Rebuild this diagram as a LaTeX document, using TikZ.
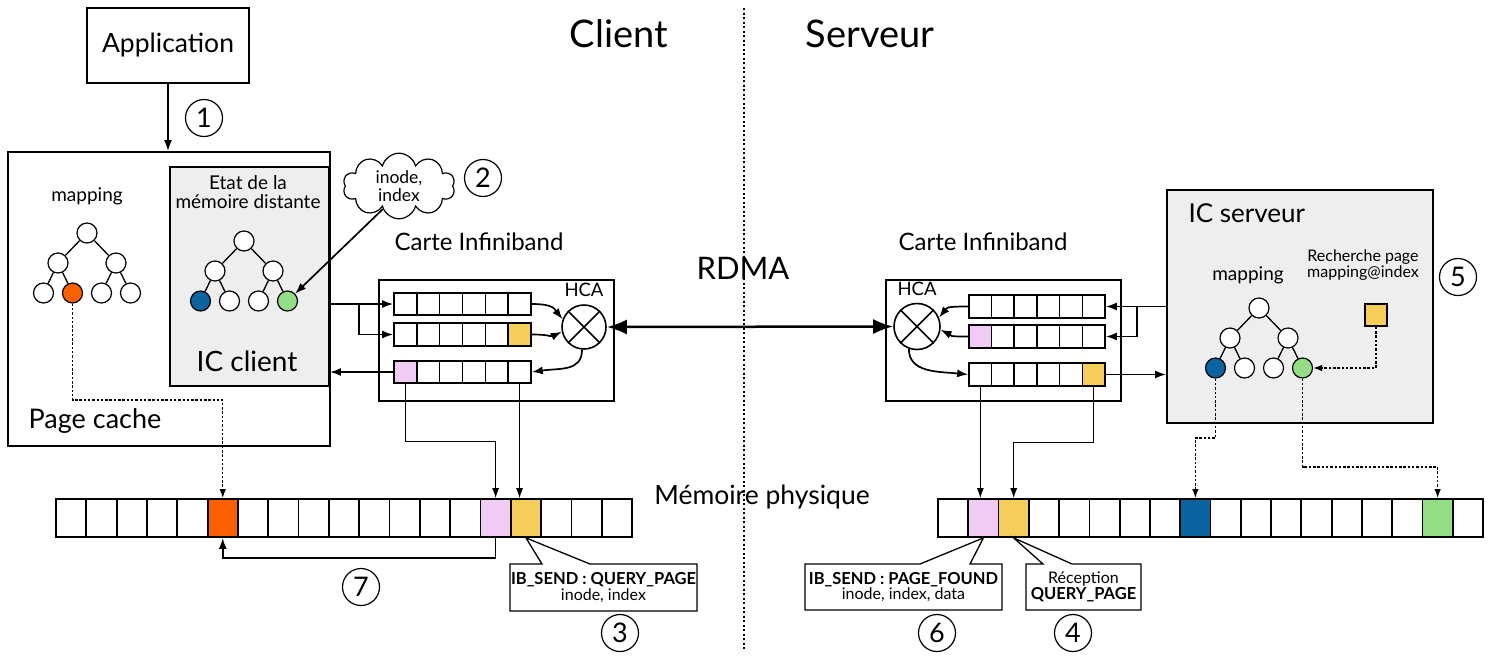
\documentclass[tikz,border=0pt]{standalone}
\usepackage{fontspec}
\setmainfont{Lato}
\usetikzlibrary{arrows.meta,shapes.symbols,calc}
\definecolor{cOrange}{HTML}{FA6000}
\definecolor{cBlue}{HTML}{0B64A0}
\definecolor{cGreen}{HTML}{93DE84}
\definecolor{cYellow}{HTML}{F5CD5A}
\definecolor{cPink}{HTML}{F0CCF5}
\definecolor{cGray}{HTML}{EEEEEE}
\newcommand\fsz[2]{\fontsize{#1}{#2}\selectfont}
\newcommand\drawtree[7]{%
  \node[leaf] (#1-r) at (#2,#3) {};
  \node[leaf] (#1-a) at ({#2-29},{#3+30}) {};
  \node[leaf] (#1-b) at ({#2+29},{#3+30}) {};
  \node[leaf,fill=#4] (#1-l1) at ({#2-43.5},{#3+60}) {};
  \node[leaf,fill=#5] (#1-l2) at ({#2-14.5},{#3+60}) {};
  \node[leaf,fill=#6] (#1-l3) at ({#2+14.5},{#3+60}) {};
  \node[leaf,fill=#7] (#1-l4) at ({#2+43.5},{#3+60}) {};
  \draw[tedge] (#1-r)--(#1-a) (#1-r)--(#1-b) (#1-a)--(#1-l1) (#1-a)--(#1-l2) (#1-b)--(#1-l3) (#1-b)--(#1-l4);
}
\begin{document}
\begin{tikzpicture}[x=1pt,y=-1pt,
  box/.style={draw,line width=1.9pt,inner sep=0},
  leaf/.style={circle,draw,line width=1.2pt,minimum size=20pt,inner sep=0,fill=white},
  tedge/.style={line width=1.3pt},
  qcell/.style={draw,line width=1.6pt,minimum width=22.8pt,minimum height=22.5pt,inner sep=0},
  mcell/.style={draw,line width=1.8pt,minimum width=30.3pt,minimum height=38pt,inner sep=0},
  arr/.style={-{Latex[length=11pt,width=8pt]},line width=1.7pt},
  thinarr/.style={-{Latex[length=10pt,width=7pt]},line width=1pt},
  dotarr/.style={-{Latex[length=9pt,width=6.5pt]},line width=1.3pt,dash pattern=on 2.5pt off 1.8pt},
  num/.style={circle,draw,line width=1.2pt,minimum size=37pt,inner sep=0,font=\fsz{27}{27}},
  cbox/.style={draw,line width=1.3pt,fill=white},
  hca/.style={circle,draw,line width=1.6pt,inner sep=0,fill=white},
]
\useasboundingbox (0,0) rectangle (1493,657);

% divider
\coordinate (dtop) at (744,8);
\coordinate (dbot) at (744,650);
\draw[line width=1.3pt,dash pattern=on 2pt off 2.5pt] (dtop) -- (dbot);

\node[font=\fsz{38}{42}] (tclient) at (619,34) {Client};
\node[font=\fsz{38}{42}] (tserveur) at (870,34) {Serveur};

% application
\node[box,minimum width=162pt,minimum height=75pt,font=\fsz{26.5}{30}] (app) at (168,45.5) {Application};
\node[box,minimum width=322pt,minimum height=294pt] (pc) at (169,299) {};
\draw[arr] (app.south) -- (app.south |- pc.north);
\node[num] (n1) at (204,118) {1};

\node[box,fill=cGray,minimum width=159pt,minimum height=219pt] (icc) at (249.5,276.5) {};
\node[font=\fsz{19}{22}] (tmap1) at (87,196) {mapping};
\node[font=\fsz{19}{19},align=center] (tetat) at (248,192) {Etat de la\\mémoire distante};
\node[font=\fsz{28}{30}] (ticc) at (247,361) {IC client};
\node[font=\fsz{27}{30}] (tpc) at (95,421) {Page cache};

\drawtree{lt}{87}{233}{white}{cOrange}{white}{white}
\drawtree{ct}{244}{241}{cBlue}{white}{white}{cGreen}

% cloud
\node[cloud,draw,line width=1.2pt,cloud puffs=10,aspect=2.4,minimum width=112pt,minimum height=50pt,inner sep=0,align=center,font=\fsz{17.5}{17.5}] (cl) at (399,186) {inode,\\index};
\node[num] (n2) at (483,178) {2};
\draw[arr] (cl.235) -- (ct-l4);

% client HCA
\node[box,minimum width=235pt,minimum height=121pt] (chbox) at (496.5,340.5) {};
\node[font=\fsz{24}{26}] (tcart1) at (479,242) {Carte Infiniband};
\node[font=\fsz{18.5}{18.5}] (thca1) at (584,290) {HCA};
\node[hca,minimum size=44pt] (chca) at (584,327) {};
\draw[line width=1.6pt] (chca.45) -- (chca.225) (chca.135) -- (chca.-45);
\foreach \f [count=\i] in {white,white,white,white,white,white}
  \node[qcell,fill=\f] (cq1-\i) at ({394+(\i-0.5)*22.83},304) {};
\foreach \f [count=\i] in {white,white,white,white,white,cYellow}
  \node[qcell,fill=\f] (cq2-\i) at ({394+(\i-0.5)*22.83},334.5) {};
\foreach \f [count=\i] in {cPink,white,white,white,white,white}
  \node[qcell,fill=\f] (cq3-\i) at ({394+(\i-0.5)*22.83},372) {};

\coordinate (cin) at (icc.east |- cq1-1.west);
\coordinate (cbr) at (359,304);
\draw[arr] (cin) -- (cq1-1.west);
\draw[arr] (cbr) |- (cq2-1.west);
\draw[arr] (cq3-1.west) -- (cq3-1.west -| icc.east);
\draw[arr] (cq1-6.east) .. controls +(22,0) and +(-8,-10) .. (chca.160);
\draw[arr] (cq2-6.east) .. controls +(22,0) and +(-12,6) .. (chca.192);
\draw[arr] (chca.-95) .. controls +(0,22) and +(28,-4) .. (cq3-6.east);

% RDMA
\node[font=\fsz{31}{34}] (trdma) at (743,268) {RDMA};

% server HCA
\node[box,minimum width=235pt,minimum height=121pt] (shbox) at (1003.5,340.5) {};
\node[font=\fsz{24}{26}] (tcart2) at (983,242) {Carte Infiniband};
\node[font=\fsz{18.5}{18.5}] (thca2) at (917,289) {HCA};
\node[hca,minimum size=46pt] (shca) at (917,326.5) {};
\draw[line width=1.6pt] (shca.45) -- (shca.225) (shca.135) -- (shca.-45);
\foreach \f [count=\i] in {white,white,white,white,white,white}
  \node[qcell,fill=\f] (sq1-\i) at ({969+(\i-0.5)*22.67},306.5) {};
\foreach \f [count=\i] in {cPink,white,white,white,white,white}
  \node[qcell,fill=\f] (sq2-\i) at ({969+(\i-0.5)*22.67},336.5) {};
\foreach \f [count=\i] in {white,white,white,white,white,cYellow}
  \node[qcell,fill=\f] (sq3-\i) at ({969+(\i-0.5)*22.67},374.5) {};

\draw[line width=2.5pt,{Latex[length=20pt,width=15pt]}-{Latex[length=20pt,width=15pt]}] (chca.east) -- (shca.west);

% IC serveur
\node[box,fill=cGray,minimum width=266pt,minimum height=233pt] (sic) at (1300,306.5) {};
\node[font=\fsz{26}{30},anchor=west] (tics) at (1185,213) {IC serveur};
\node[font=\fsz{19}{22}] (tmap2) at (1248,275) {mapping};
\node[font=\fsz{16}{16},align=center] (trech) at (1363,265) {Recherche page\\mapping@index};
\node[num] (n5) at (1458,277) {5};
\node[draw,line width=1.5pt,fill=cYellow,minimum size=22pt,inner sep=0] (ysq) at (1376,315) {};
\drawtree{st}{1259}{308}{cBlue}{white}{white}{cGreen}
\draw[dotarr] (ysq.south) |- (st-l4.east);

\coordinate (sin) at (sic.west |- sq1-6.east);
\coordinate (sbr) at (1137,306.5);
\draw[arr] (sin) -- (sq1-6.east);
\draw[arr] (sbr) |- (sq2-6.east);
\draw[arr] (sq3-6.east) -- (sq3-6.east -| sic.west);
\draw[arr] (sq1-1.west) .. controls +(-22,0) and +(8,-10) .. (shca.22);
\draw[arr] (sq2-1.west) .. controls +(-22,0) and +(12,6) .. (shca.-8);
\draw[arr] (shca.-110) .. controls +(0,24) and +(-30,-3) .. (sq3-1.west);

% memory
\node[font=\fsz{26.5}{30}] (tmem) at (762,497) {Mémoire physique};
\foreach \f [count=\i from 0] in {white,white,white,white,white,cOrange,white,white,white,white,white,white,white,white,cPink,cYellow,white,white,white}
  \node[mcell,fill=\f] (ml-\i) at ({56+(\i+0.5)*30.32},518) {};
\foreach \f [count=\i from 0] in {white,cPink,cYellow,white,white,white,white,white,cBlue,white,white,white,white,white,white,white,cGreen,white}
  \node[mcell,fill=\f] (mr-\i) at ({938+(\i+0.5)*30.28},518) {};

\draw[thinarr] (cq3-1.south) -- (cq3-1.south |- 0,441) -| (ml-14.north);
\draw[thinarr] (cq2-6.south |- cq3-6.south) -- (cq2-6.south |- ml-15.north);
\draw[thinarr] (sq2-1.south |- sq3-1.south) -- (sq2-1.south |- mr-1.north);
\draw[thinarr] (sq3-6.south) -- (sq3-6.south |- 0,442) -| (mr-2.north);

\draw[dotarr] (lt-l2.south) -- (lt-l2.south |- 0,400) -| (ml-5.north);
\draw[dotarr] (st-l1.south) -- (st-l1.south |- 0,438) -| (mr-8.north);
\draw[dotarr] (st-l4.south) -- (st-l4.south |- 0,467) -| (mr-16.north);

\draw[arr] (ml-14.south) -- (ml-14.south |- 0,558) -| (ml-5.south);
\node[num] (n7) at (361,587) {7};

% callouts
\draw[cbox] (510,564) -- (542,564) -- (ml-15.south) -- (590,564) -- (697,564) -- (697,611) -- (510,611) -- cycle;
\node[align=center,inner sep=0] (co3) at (603.5,587.5) {\fsz{16.5}{19}\textbf{IB\_SEND : QUERY\_PAGE}\\\fsz{16}{19}inode, index};
\node[num] (n3) at (620,633) {3};

\draw[cbox] (805,564) -- (920,564) -- (mr-1.south) -- (970,564) -- (1002,564) -- (1002,610) -- (805,610) -- cycle;
\node[align=center,inner sep=0] (co6) at (903.5,587) {\fsz{16.5}{19}\textbf{IB\_SEND : PAGE\_FOUND}\\\fsz{16}{19}inode, index, data};
\node[num] (n6) at (937,633) {6};

\draw[cbox] (1026,564) -- (1043,564) -- (mr-2.south) -- (1072,564) -- (1141,564) -- (1141,610) -- (1026,610) -- cycle;
\node[align=center,inner sep=0] (co4) at (1083.5,587) {\fsz{16}{19}Réception\\\fsz{16.5}{19}\textbf{QUERY\_PAGE}};
\node[num] (n4) at (1073,633) {4};
\end{tikzpicture}
\end{document}
